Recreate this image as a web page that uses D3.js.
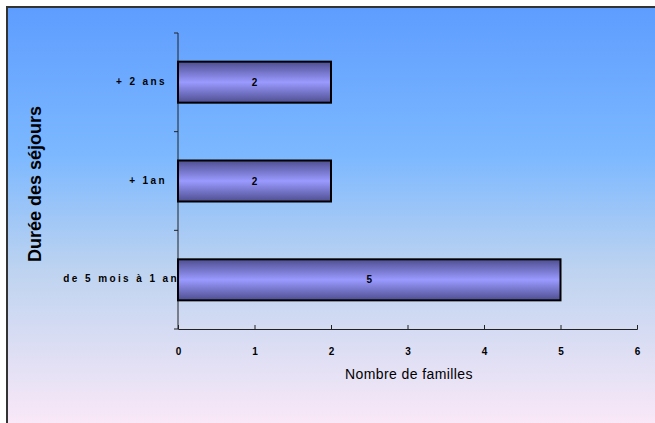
<!DOCTYPE html>
<html lang="fr">
<head>
    <meta charset="UTF-8">
    <title>Durée des séjours</title>
    <script src="https://d3js.org/d3.v7.min.js"></script>
    <style>
        body { margin: 0; background: #fff; }
        svg { display: block; font-family: "Liberation Sans", Arial, sans-serif; }
        .tick text { font-size: 10px; font-weight: bold; fill: #000; }
        .domain, .tick line { stroke: #222; }
    </style>
</head>
<body>
    <svg id="chart" width="655" height="423"></svg>
    <script>
        // Data
        const categories = ["de 5 mois à 1 an", "+ 1an", "+ 2 ans"];
        const values = [5, 2, 2];
        const xTicks = [0, 1, 2, 3, 4, 5, 6];

        const margin = { top: 33, right: 18, bottom: 94, left: 178 };
        const W = 655, H = 423;

        const svg = d3.select("#chart");
        const defs = svg.append("defs");

        // background gradient
        const bg = defs.append("linearGradient").attr("id", "bg")
            .attr("x1", 0).attr("y1", 0).attr("x2", 0).attr("y2", 1);
        [["0%", "#5e9dff"], ["35%", "#7cb8ff"], ["62%", "#bdd3f0"], ["100%", "#fce9f8"]]
            .forEach(s => bg.append("stop").attr("offset", s[0]).attr("stop-color", s[1]));

        // bar gradient
        const bg2 = defs.append("linearGradient").attr("id", "bar")
            .attr("x1", 0).attr("y1", 0).attr("x2", 0).attr("y2", 1);
        [["0%", "#4e4e90"], ["50%", "#9a9aff"], ["100%", "#4e4e90"]]
            .forEach(s => bg2.append("stop").attr("offset", s[0]).attr("stop-color", s[1]));

        svg.append("rect").attr("x", 7).attr("y", 7).attr("width", W).attr("height", H)
            .attr("fill", "url(#bg)");
        svg.append("path").attr("d", `M7,${H}V7H${W}`)
            .attr("fill", "none").attr("stroke", "#333").attr("stroke-width", 2);

        const g = svg.append("g").attr("transform", `translate(${margin.left},${margin.top})`);

        const x = d3.scaleLinear().domain([0, 6]).range([0, 459]);
        const y = d3.scaleBand().domain(categories.slice().reverse()).range([0, 296]).paddingInner(0.585).paddingOuter(0.29);
        const yb = d3.scaleBand().domain(categories.slice().reverse()).range([0, 296]);

        // axes
        const xAxis = g.append("g").attr("transform", "translate(0,296)")
            .call(d3.axisBottom(x).tickValues(xTicks).tickFormat(d3.format("d"))
                .tickSize(-4).tickSizeOuter(-4).tickPadding(24));
        xAxis.selectAll(".tick text").attr("dy", "0.2em");

        const yAxisG = g.append("g");
        yAxisG.append("line").attr("x1", 0).attr("x2", 0).attr("y1", 0).attr("y2", 296).attr("stroke", "#222");
        yAxisG.selectAll("line.tk").data(d3.range(4)).enter().append("line")
            .attr("class", "tk")
            .attr("x1", 0).attr("x2", -4)
            .attr("y1", i => i * yb.step()).attr("y2", i => i * yb.step())
            .attr("stroke", "#222");
        yAxisG.selectAll("text.cat").data(categories).enter().append("text")
            .attr("class", "cat")
            .attr("x", -11)
            .attr("y", d => yb(d) + yb.bandwidth() / 2 - 1)
            .attr("dy", "0.35em")
            .attr("text-anchor", "end")
            .style("font-size", "10px").style("font-weight", "bold")
            .style("letter-spacing", "2.4px")
            .text(d => d)
            .each(function () {
                // long labels run up to the axis
                if (this.getComputedTextLength() > 100) d3.select(this).attr("x", 1);
            });

        // bars
        g.selectAll(".bar").data(categories).enter().append("rect")
            .attr("class", "bar")
            .attr("x", 0)
            .attr("y", d => y(d))
            .attr("width", (d, i) => x(values[i]))
            .attr("height", y.bandwidth())
            .attr("fill", "url(#bar)")
            .attr("stroke", "#000").attr("stroke-width", 2);

        g.selectAll(".val").data(categories).enter().append("text")
            .attr("x", (d, i) => x(values[i]) / 2)
            .attr("y", d => y(d) + y.bandwidth() / 2)
            .attr("dy", "0.35em")
            .attr("text-anchor", "middle")
            .style("font-size", "10px").style("font-weight", "bold")
            .text((d, i) => values[i]);

        // titles
        svg.append("text")
            .attr("x", 409).attr("y", 379)
            .attr("text-anchor", "middle")
            .style("font-size", "14px").style("letter-spacing", "0.4px")
            .text("Nombre de familles");

        svg.append("text")
            .attr("transform", "translate(41,184) rotate(-90)")
            .attr("text-anchor", "middle")
            .style("font-size", "18px").style("font-weight", "bold")
            .text("Durée des séjours");
    </script>
</body>
</html>
